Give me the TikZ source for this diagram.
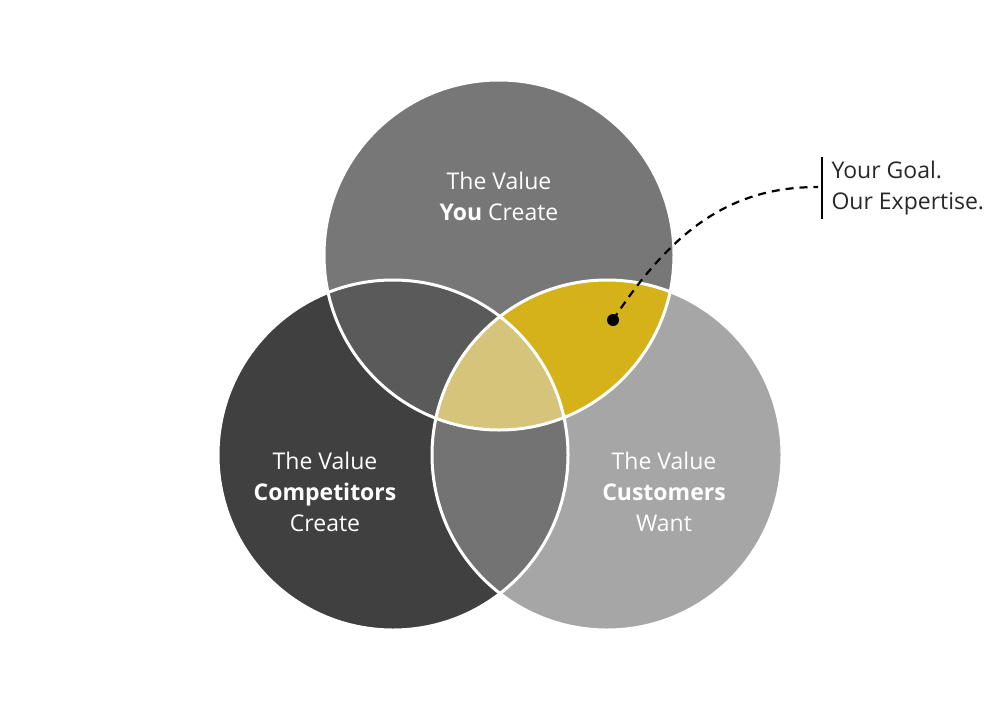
\documentclass[tikz,border=0pt]{standalone}
\usepackage{fontspec}
\setmainfont{Open Sans}
\begin{document}
\begin{tikzpicture}[x=1pt,y=-1pt,
  lbl/.style={text=white,align=center,font=\fontsize{23}{31}\selectfont},
  ring/.style={draw=white,line width=3pt}]
\useasboundingbox (0,0) rectangle (1000,720);
\fill[white] (0,0) rectangle (1000,720);
\def\T{(499,255) circle (175)}
\def\L{(393,455) circle (175)}
\def\R{(607,455) circle (175)}
\fill[gray!0,fill={rgb,255:red,119;green,119;blue,119}] \T;
\fill[fill={rgb,255:red,64;green,64;blue,64}] \L;
\fill[fill={rgb,255:red,166;green,166;blue,166}] \R;
\begin{scope}\clip \T; \fill[fill={rgb,255:red,90;green,90;blue,90}] \L; \end{scope}
\begin{scope}\clip \L; \fill[fill={rgb,255:red,115;green,115;blue,115}] \R; \end{scope}
\begin{scope}\clip \T; \fill[fill={rgb,255:red,214;green,178;blue,26}] \R; \end{scope}
\begin{scope}\clip \T; \clip \L; \fill[fill={rgb,255:red,214;green,196;blue,122}] \R; \end{scope}
\draw[ring] \T; \draw[ring] \L; \draw[ring] \R;
\node[lbl] (you) at (499,196) {The Value\\\textbf{You} Create};
\node[lbl] (comp) at (325,492) {The Value\\\textbf{Competitors}\\Create};
\node[lbl] (cust) at (664,492) {The Value\\\textbf{Customers}\\Want};
\fill (613,320) circle (6) coordinate (dot);
\coordinate (bar) at (818,187);
\draw[line width=2.2pt,dash pattern=on 8pt off 6pt] (dot) .. controls (675,225) and (735,187) .. (bar);
\draw[line width=2.2pt] (822,157) -- (822,219);
\node[anchor=west,align=left,font=\fontsize{23}{31}\selectfont,text={rgb,255:red,40;green,40;blue,40}] (goal) at (828,188) {Your Goal.\\Our Expertise.};
\end{tikzpicture}
\end{document}
